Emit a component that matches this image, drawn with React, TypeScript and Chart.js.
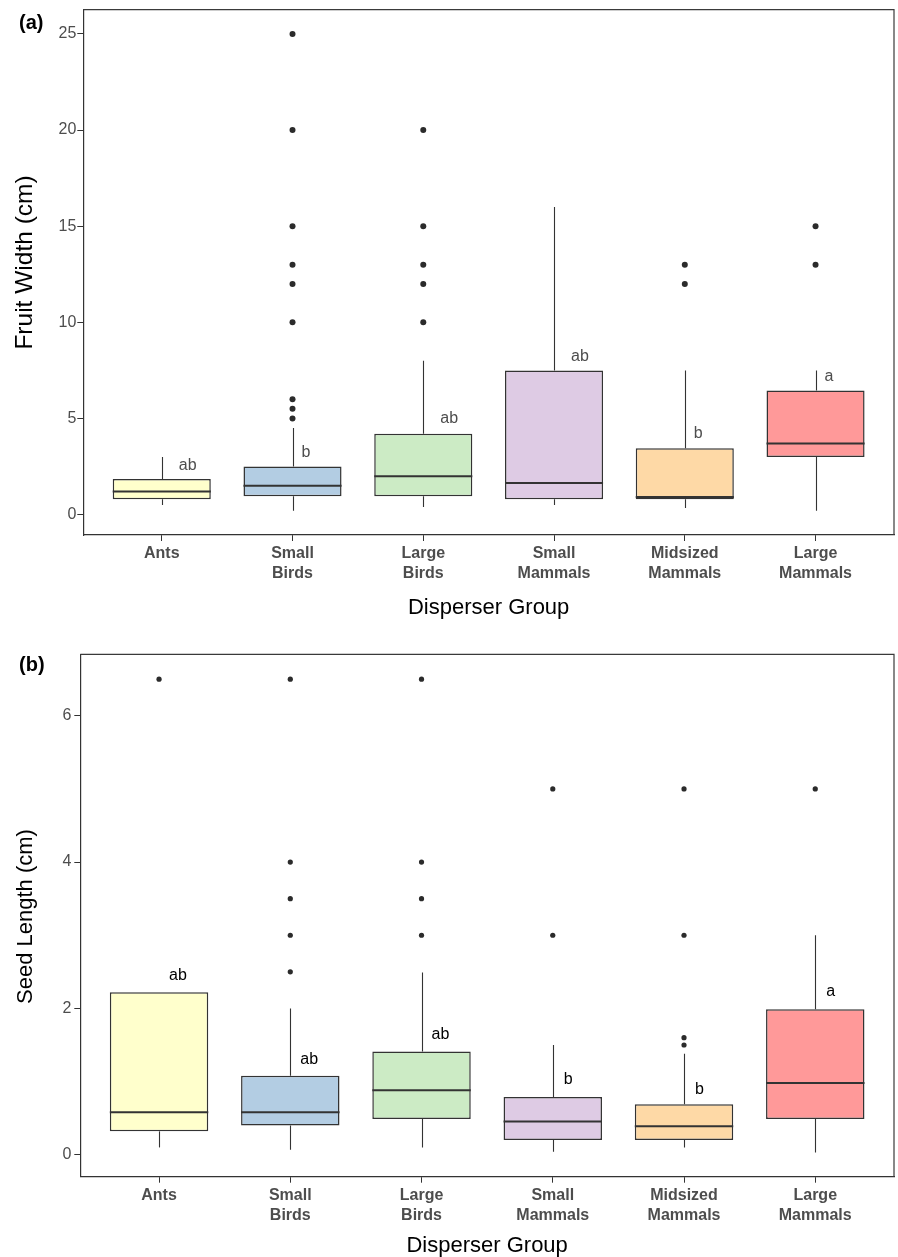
import React, { useEffect, useRef } from 'react';
import { Chart, registerables } from 'chart.js';

Chart.register(...registerables);

const FONT = "'Liberation Sans', Arial, Helvetica, sans-serif";

// ---------- shared categories ----------
const categories = ['Ants', 'Small Birds', 'Large Birds', 'Small Mammals', 'Midsized Mammals', 'Large Mammals'];
const categoryLines = [['Ants'], ['Small', 'Birds'], ['Large', 'Birds'], ['Small', 'Mammals'], ['Midsized', 'Mammals'], ['Large', 'Mammals']];
const boxColors = ['#FFFFCC', '#B3CDE3', '#CCEBC5', '#DECBE4', '#FED9A6', '#FF9999'];

// ---------- panel (a): fruit width ----------
const fwLow = [0.5, 0.2, 0.4, 0.5, 0.35, 0.2];
const fwQ1 = [0.8, 0.95, 0.95, 0.8, 0.8, 3.0];
const fwMedian = [1.2, 1.5, 2.0, 1.65, 0.92, 3.7];
const fwQ3 = [1.85, 2.5, 4.2, 7.5, 3.45, 6.45];
const fwHigh = [3.0, 4.5, 8.0, 16.0, 7.5, 7.5];
const fwOutliers = [[], [5, 5.5, 6, 10, 12, 13, 15, 20, 25], [10, 12, 13, 15, 20], [], [12, 13], [13, 15]];
const fwLetters = ['ab', 'b', 'ab', 'ab', 'b', 'a'];
const fwLetterY = [2.31, 3.0, 4.74, 8.0, 3.96, 6.94];
const fwTicks = [0, 5, 10, 15, 20, 25];

// ---------- panel (b): seed length ----------
const slLow = [0.1, 0.07, 0.1, 0.04, 0.1, 0.03];
const slQ1 = [0.32, 0.4, 0.49, 0.2, 0.2, 0.49];
const slMedian = [0.58, 0.58, 0.88, 0.455, 0.39, 0.98];
const slQ3 = [2.22, 1.08, 1.41, 0.79, 0.69, 1.99];
const slHigh = [2.22, 2.0, 2.49, 1.5, 1.38, 3.0];
const slOutliers = [[6.5], [2.5, 3, 3.5, 4, 6.5], [3, 3.5, 4, 6.5], [3, 5], [1.5, 1.6, 3, 5], [5]];
const slLetters = ['ab', 'ab', 'ab', 'b', 'b', 'a'];
const slLetterY = [2.39, 1.24, 1.58, 0.97, 0.83, 2.17];
const slTicks = [0, 2, 4, 6];

const boxExtras = {
  id: 'boxExtras',
  afterDatasetsDraw(chart: any, _args: any, o: any) {
    const { ctx, chartArea } = chart;
    const x = chart.scales.x;
    const y = chart.scales.y;
    const meta = chart.getDatasetMeta(0);
    ctx.save();
    // whiskers
    ctx.strokeStyle = '#333333';
    ctx.lineWidth = 1.1;
    meta.data.forEach((bar: any, i: number) => {
      const cx = Math.round(bar.x) + 0.5;
      const yq1 = y.getPixelForValue(o.q1[i]);
      const yq3 = y.getPixelForValue(o.q3[i]);
      const ylo = y.getPixelForValue(o.low[i]);
      const yhi = y.getPixelForValue(o.high[i]);
      ctx.beginPath();
      if (yhi < yq3 - 0.5) {
        ctx.moveTo(cx, yq3);
        ctx.lineTo(cx, yhi);
      }
      if (ylo > yq1 + 0.5) {
        ctx.moveTo(cx, yq1);
        ctx.lineTo(cx, ylo);
      }
      ctx.stroke();
    });
    // medians
    ctx.strokeStyle = '#333333';
    ctx.lineWidth = 2;
    meta.data.forEach((bar: any, i: number) => {
      const ym = y.getPixelForValue(o.median[i]);
      const hw = bar.width / 2;
      ctx.beginPath();
      ctx.moveTo(bar.x - hw, ym);
      ctx.lineTo(bar.x + hw, ym);
      ctx.stroke();
    });
    // significance letters
    ctx.fillStyle = o.letterColor;
    ctx.font = `16px ${FONT}`;
    ctx.textAlign = 'left';
    ctx.textBaseline = 'alphabetic';
    o.letters.forEach((t: string, i: number) => {
      const dx = o.letterDx(t);
      ctx.fillText(t, x.getPixelForValue(i) + dx, y.getPixelForValue(o.letterY[i]));
    });
    // frame top & right
    ctx.strokeStyle = '#3a3a3a';
    ctx.lineWidth = 1.2;
    ctx.beginPath();
    ctx.moveTo(chartArea.left, chartArea.top);
    ctx.lineTo(chartArea.right, chartArea.top);
    ctx.lineTo(chartArea.right, chartArea.bottom);
    ctx.stroke();
    // panel tag
    ctx.fillStyle = '#000000';
    ctx.font = `bold 20px ${FONT}`;
    ctx.fillText(o.tag, 19, o.tagY);
    // y axis title (rotated)
    ctx.save();
    ctx.translate(25.5, o.yTitleY);
    ctx.rotate(-Math.PI / 2);
    ctx.textAlign = 'center';
    ctx.textBaseline = 'middle';
    ctx.fillStyle = '#000000';
    ctx.font = `${o.yTitleSize}px ${FONT}`;
    ctx.fillText(o.yTitle, 0, 0);
    ctx.restore();
    ctx.restore();
  },
};

type PanelDef = {
  low: number[]; q1: number[]; median: number[]; q3: number[]; high: number[];
  outliers: number[][]; letters: string[]; letterY: number[]; ticks: number[];
  yMin: number; yMax: number; yTitle: string; yTitleSize: number; yTitleY: number;
  tag: string; tagY: number;
  letterColor: string; letterDx: (t: string) => number;
  height: number; areaTop: number; areaLeft: number; areaBottom: number;
  yTickPad: number; xTitlePadBottom: number; pointRadius: number;
};

function buildConfig(p: PanelDef): any {
  const boxData = categories.map((_, i) => ({ x: i, y: [p.q1[i], p.q3[i]] }));
  const outlierData: { x: number; y: number }[] = [];
  p.outliers.forEach((arr, i) => arr.forEach((v) => outlierData.push({ x: i, y: v })));
  return {
    type: 'bar',
    data: {
      datasets: [
        {
          type: 'bar',
          data: boxData,
          backgroundColor: boxColors,
          borderColor: '#333333',
          borderWidth: 1.5,
          borderSkipped: false,
          barPercentage: 0.75,
          categoryPercentage: 1,
        },
        {
          type: 'scatter',
          data: outlierData,
          pointRadius: p.pointRadius,
          pointBackgroundColor: '#2b2b2b',
          pointBorderWidth: 0,
          showLine: false,
        },
      ],
    },
    options: {
      responsive: false,
      animation: false,
      devicePixelRatio: 1,
      events: [],
      layout: { padding: { top: p.areaTop, right: 1.5, left: 0, bottom: 0 } },
      plugins: {
        legend: { display: false },
        tooltip: { enabled: false },
        title: { display: false },
        boxExtras: {
          low: p.low, q1: p.q1, median: p.median, q3: p.q3, high: p.high,
          letters: p.letters, letterY: p.letterY, letterColor: p.letterColor,
          letterDx: p.letterDx, tag: p.tag, tagY: p.tagY,
          yTitle: p.yTitle, yTitleSize: p.yTitleSize, yTitleY: p.yTitleY,
        },
      },
      scales: {
        x: {
          type: 'linear',
          min: -0.6,
          max: 5.6,
          offset: false,
          afterBuildTicks: (s: any) => { s.ticks = categories.map((_, i) => ({ value: i })); },
          afterFit: (s: any) => { s.height = p.height - p.areaBottom; s.paddingLeft = 0; s.paddingRight = 0; },
          grid: { offset: false, drawOnChartArea: false, drawTicks: true, tickLength: 6, color: '#333333', lineWidth: 1 },
          border: { display: true, color: '#333333', width: 1.2 },
          ticks: {
            autoSkip: false,
            maxRotation: 0,
            padding: 3,
            color: '#4d4d4d',
            font: { family: FONT, size: 16, weight: 'bold', lineHeight: 1.25 },
            callback: (v: number) => categoryLines[v] ?? '',
          },
          title: {
            display: true,
            text: 'Disperser Group',
            color: '#000000',
            font: { family: FONT, size: 22, lineHeight: 1 },
            padding: { top: 0, bottom: p.xTitlePadBottom },
          },
        },
        y: {
          type: 'linear',
          min: p.yMin,
          max: p.yMax,
          afterBuildTicks: (s: any) => { s.ticks = p.ticks.map((v) => ({ value: v })); },
          afterFit: (s: any) => { s.width = p.areaLeft; s.paddingTop = 0; s.paddingBottom = 0; },
          grid: { drawOnChartArea: false, drawTicks: true, tickLength: 6, color: '#333333', lineWidth: 1 },
          border: { display: true, color: '#333333', width: 1.2 },
          ticks: {
            padding: p.yTickPad,
            color: '#4d4d4d',
            font: { family: FONT, size: 16 },
            callback: (v: number) => String(v),
          },
          title: { display: false },
        },
      },
    },
    plugins: [boxExtras],
  };
}

const panelA: PanelDef = {
  low: fwLow, q1: fwQ1, median: fwMedian, q3: fwQ3, high: fwHigh,
  outliers: fwOutliers, letters: fwLetters, letterY: fwLetterY, ticks: fwTicks,
  yMin: -1.06, yMax: 26.26, yTitle: 'Fruit Width (cm)', yTitleSize: 24.5, yTitleY: 262.5,
  tag: '(a)', tagY: 29,
  letterColor: '#4d4d4d', letterDx: (t) => (t.length > 1 ? 17 : 9),
  height: 628, areaTop: 9.7, areaLeft: 83.3, areaBottom: 535,
  yTickPad: 1, xTitlePadBottom: 9, pointRadius: 3,
};

const panelB: PanelDef = {
  low: slLow, q1: slQ1, median: slMedian, q3: slQ3, high: slHigh,
  outliers: slOutliers, letters: slLetters, letterY: slLetterY, ticks: slTicks,
  yMin: -0.3, yMax: 6.84, yTitle: 'Seed Length (cm)', yTitleSize: 22, yTitleY: 288.5,
  tag: '(b)', tagY: 43,
  letterColor: '#000000', letterDx: (t) => (t.length > 1 ? 10 : 11),
  height: 629, areaTop: 26.3, areaLeft: 80.3, areaBottom: 548.7,
  yTickPad: 3, xTitlePadBottom: 0.5, pointRadius: 2.6,
};

function Panel({ def, top }: { def: PanelDef; top: number }) {
  const ref = useRef<HTMLCanvasElement | null>(null);
  useEffect(() => {
    if (!ref.current) return;
    const chart = new Chart(ref.current, buildConfig(def));
    return () => chart.destroy();
  }, [def]);
  return (
    <canvas
      ref={ref}
      width={898}
      height={def.height}
      style={{ position: 'absolute', left: 0, top, width: 898, height: def.height, display: 'block' }}
    />
  );
}

export default function App() {
  return (
    <div style={{ position: 'fixed', left: 0, top: 0, width: 898, height: 1257, overflow: 'hidden', background: '#ffffff' }}>
      <Panel def={panelA} top={0} />
      <Panel def={panelB} top={628} />
    </div>
  );
}
